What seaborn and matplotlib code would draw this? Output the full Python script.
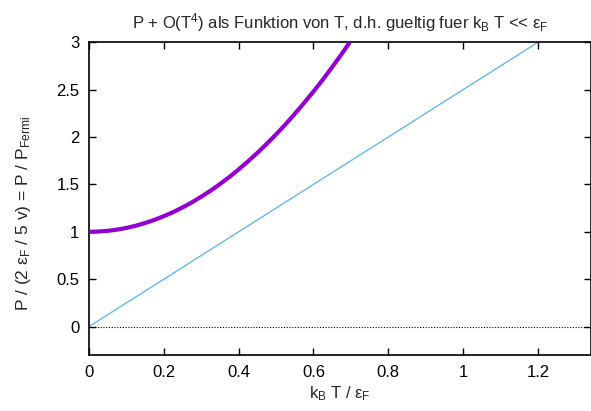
import matplotlib
matplotlib.use("Agg")
import matplotlib.pyplot as plt
import seaborn as sns
import pandas as pd

# Data
t_quantum = [0.0, 0.025, 0.05, 0.075, 0.1, 0.125, 0.15, 0.175, 0.2, 0.225, 0.25, 0.275,
             0.3, 0.325, 0.35, 0.375, 0.4, 0.425, 0.45, 0.475, 0.5, 0.525, 0.55, 0.575,
             0.6, 0.625, 0.65, 0.675, 0.697]
p_quantum = [1.0, 1.003, 1.010, 1.023, 1.041, 1.064, 1.093, 1.126, 1.165, 1.208, 1.257, 1.311,
             1.370, 1.434, 1.504, 1.578, 1.658, 1.743, 1.833, 1.928, 2.028, 2.133, 2.244, 2.360,
             2.480, 2.606, 2.738, 2.874, 3.0]
t_classic = [0.0, 1.2]
p_classic = [0.0, 3.0]
x_ticks = [0, 0.2, 0.4, 0.6, 0.8, 1, 1.2]
y_ticks = [0, 0.5, 1, 1.5, 2, 2.5, 3]

sns.set_style("ticks")
plt.rcParams['font.family'] = ['Liberation Sans', 'DejaVu Sans']
plt.rcParams['mathtext.fontset'] = 'custom'
plt.rcParams['mathtext.rm'] = 'Liberation Sans'
plt.rcParams['mathtext.it'] = 'Liberation Sans'
plt.rcParams['mathtext.default'] = 'regular'

fig = plt.figure(figsize=(5.91, 4.11), dpi=100)
ax = fig.add_axes([89/591, 1-355/411, 1-89/591, (355-42.3)/411])

dq = pd.DataFrame({"t": t_quantum, "p": p_quantum})
dc = pd.DataFrame({"t": t_classic, "p": p_classic})

ax.axhline(0, color='black', lw=0.8, ls=(0, (1, 1.5)), zorder=1)
sns.lineplot(data=dc, x="t", y="p", ax=ax, color='#56b4e9', lw=0.9, zorder=2)
sns.lineplot(data=dq, x="t", y="p", ax=ax, color='#9400d3', lw=3.0, zorder=3,
             solid_capstyle='butt')

ax.set_xlim(0, 1.342)
ax.set_ylim(-0.3, 3)
ax.set_xticks(x_ticks)
ax.set_xticklabels(['0', '0.2', '0.4', '0.6', '0.8', '1', '1.2'])
ax.set_yticks(y_ticks)
ax.set_yticklabels(['0', '0.5', '1', '1.5', '2', '2.5', '3'])
ax.tick_params(direction='in', length=5, width=1, top=True, right=True,
               labelsize=12, pad=7, colors='black')
for s in ax.spines.values():
    s.set_visible(True)
    s.set_linewidth(1.2)
    s.set_color('black')

ax.set_xlabel(r"k$_B$ T / ε$_F$", fontsize=12, labelpad=3)
ax.set_ylabel(r"P / (2 ε$_F$ / 5 v) = P / P$_{Fermi}$", fontsize=12.5)
ax.yaxis.set_label_coords((33 - 89) / 502, (355 - 213.5) / 312.7)
ax.set_title(r"P + O(T$^4$) als Funktion von T, d.h. gueltig fuer k$_B$ T << ε$_F$",
             fontsize=12, pad=10)

fig.savefig("out.png", dpi=100)
